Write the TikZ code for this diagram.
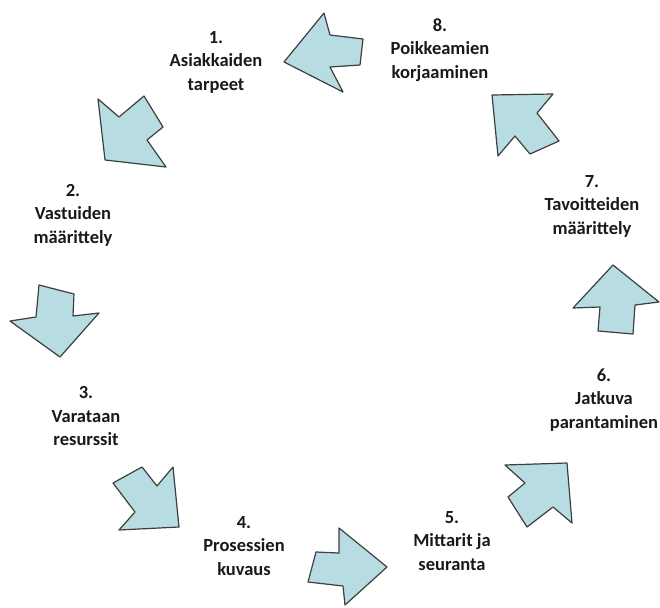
\documentclass[tikz,border=0pt]{standalone}
\usepackage{fontspec}
\setmainfont{Carlito}
\definecolor{arrowfill}{RGB}{183,221,226}
\definecolor{arrowline}{RGB}{60,62,64}
\definecolor{labeltext}{RGB}{25,25,25}
\tikzset{
  blockarrow/.style={fill=arrowfill, draw=arrowline, line width=1.2pt, line join=round},
  steplabel/.style={align=center, font=\fontsize{18.5}{23.5}\selectfont\bfseries, text=labeltext, inner sep=0pt}
}
\begin{document}
\begin{tikzpicture}[x=1pt,y=-1pt]
\useasboundingbox (0,0) rectangle (660,607);
% arrows
\draw[blockarrow] (284,62) -- (324,13) -- (330,35) -- (363,39) -- (360,65) -- (330,67) -- (343,92) -- cycle;
\draw[blockarrow] (98,99) -- (119,117) -- (144,96) -- (163,127) -- (147,140) -- (166,167) -- (105,160) -- cycle;
\draw[blockarrow] (39,285) -- (74,294) -- (73,316) -- (99,313) -- (60,357) -- (10,321) -- (36,317) -- cycle;
\draw[blockarrow] (113,483) -- (142,467) -- (157,486) -- (173,467) -- (179,527) -- (119,530) -- (135,512) -- cycle;
\draw[blockarrow] (339,528) -- (387,567) -- (345,605) -- (343,586) -- (308,582) -- (316,552) -- (339,553) -- cycle;
\draw[blockarrow] (505,465) -- (567,463) -- (572,523) -- (553,507) -- (527,527) -- (508,497) -- (525,483) -- cycle;
\draw[blockarrow] (613,265) -- (659,302) -- (635,305) -- (633,334) -- (598,331) -- (600,307) -- (573,308) -- cycle;
\draw[blockarrow] (492,95) -- (553,94) -- (537,113) -- (559,141) -- (530,154) -- (515,136) -- (498,156) -- cycle;
% labels
\node[steplabel] (s1) at (216,62) {1.\\Asiakkaiden\\tarpeet};
\node[steplabel] (s2) at (73,215) {2.\\Vastuiden\\määrittely};
\node[steplabel] (s3) at (86,416) {3.\\Varataan\\resurssit};
\node[steplabel] (s4) at (244,546) {4.\\Prosessien\\kuvaus};
\node[steplabel] (s5) at (452,541) {5.\\Mittarit ja\\seuranta};
\node[steplabel] (s6) at (604,400) {6.\\Jatkuva\\parantaminen};
\node[steplabel] (s7) at (592,206) {7.\\Tavoitteiden\\määrittely};
\node[steplabel] (s8) at (440,50) {8.\\Poikkeamien\\korjaaminen};
\end{tikzpicture}
\end{document}
